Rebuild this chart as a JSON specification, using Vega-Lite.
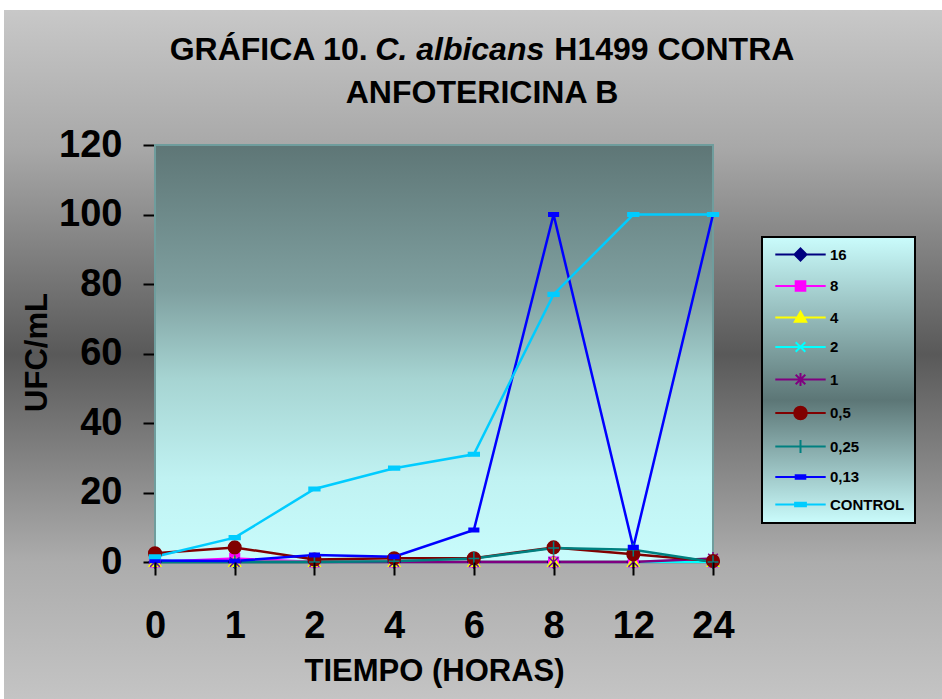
{
  "$schema": "https://vega.github.io/schema/vega-lite/v6.json",
  "width": 938,
  "height": 689,
  "autosize": {"type": "none"},
  "padding": {"left": 4, "top": 10, "right": 0, "bottom": 0},
  "background": "#ffffff",
  "title": {
    "text": ["GRÁFICA 10.\u00a0\u00a0\u00a0\u00a0\u00a0\u00a0\u00a0\u00a0\u00a0\u00a0\u00a0\u00a0\u00a0\u00a0\u00a0\u00a0\u00a0\u00a0\u00a0\u00a0\u00a0H1499 CONTRA", "ANFOTERICINA B"],
    "subtitle": "C. albicans\u00a0\u00a0\u00a0\u00a0\u00a0\u200b",
    "font": "Liberation Sans",
    "fontSize": 32,
    "fontWeight": "bold",
    "color": "#000000",
    "subtitleFont": "Liberation Sans",
    "subtitleFontSize": 32,
    "subtitleFontWeight": "bold",
    "subtitleFontStyle": "italic",
    "subtitleColor": "#000000",
    "subtitlePadding": -75,
    "anchor": "middle",
    "dx": 9,
    "lineHeight": 43,
    "baseline": "alphabetic",
    "offset": -125
  },
  "data": {
    "values": [
      {"t": 0, "serie": "16", "ufc": 0}, {"t": 1, "serie": "16", "ufc": 0}, {"t": 2, "serie": "16", "ufc": 0}, {"t": 4, "serie": "16", "ufc": 0},
      {"t": 6, "serie": "16", "ufc": 0}, {"t": 8, "serie": "16", "ufc": 0}, {"t": 12, "serie": "16", "ufc": 0}, {"t": 24, "serie": "16", "ufc": 0},
      {"t": 0, "serie": "8", "ufc": 0}, {"t": 1, "serie": "8", "ufc": 1}, {"t": 2, "serie": "8", "ufc": 0}, {"t": 4, "serie": "8", "ufc": 0},
      {"t": 6, "serie": "8", "ufc": 0}, {"t": 8, "serie": "8", "ufc": 0}, {"t": 12, "serie": "8", "ufc": 0}, {"t": 24, "serie": "8", "ufc": 0},
      {"t": 0, "serie": "4", "ufc": 0}, {"t": 1, "serie": "4", "ufc": 0}, {"t": 2, "serie": "4", "ufc": 0}, {"t": 4, "serie": "4", "ufc": 0},
      {"t": 6, "serie": "4", "ufc": 0}, {"t": 8, "serie": "4", "ufc": 0}, {"t": 12, "serie": "4", "ufc": 0}, {"t": 24, "serie": "4", "ufc": 0},
      {"t": 0, "serie": "2", "ufc": 0}, {"t": 1, "serie": "2", "ufc": 0}, {"t": 2, "serie": "2", "ufc": 0}, {"t": 4, "serie": "2", "ufc": 0},
      {"t": 6, "serie": "2", "ufc": 0}, {"t": 8, "serie": "2", "ufc": 0}, {"t": 12, "serie": "2", "ufc": 0}, {"t": 24, "serie": "2", "ufc": 0},
      {"t": 0, "serie": "1", "ufc": 0}, {"t": 1, "serie": "1", "ufc": 0}, {"t": 2, "serie": "1", "ufc": 0}, {"t": 4, "serie": "1", "ufc": 0},
      {"t": 6, "serie": "1", "ufc": 0}, {"t": 8, "serie": "1", "ufc": 0}, {"t": 12, "serie": "1", "ufc": 0}, {"t": 24, "serie": "1", "ufc": 1},
      {"t": 0, "serie": "0,5", "ufc": 2.5}, {"t": 1, "serie": "0,5", "ufc": 4.2}, {"t": 2, "serie": "0,5", "ufc": 0.7}, {"t": 4, "serie": "0,5", "ufc": 1.1},
      {"t": 6, "serie": "0,5", "ufc": 1.1}, {"t": 8, "serie": "0,5", "ufc": 4.2}, {"t": 12, "serie": "0,5", "ufc": 2.2}, {"t": 24, "serie": "0,5", "ufc": 0.3},
      {"t": 0, "serie": "0,25", "ufc": 0}, {"t": 1, "serie": "0,25", "ufc": 0}, {"t": 2, "serie": "0,25", "ufc": 0}, {"t": 4, "serie": "0,25", "ufc": 0.2},
      {"t": 6, "serie": "0,25", "ufc": 1}, {"t": 8, "serie": "0,25", "ufc": 4}, {"t": 12, "serie": "0,25", "ufc": 3.5}, {"t": 24, "serie": "0,25", "ufc": 0},
      {"t": 0, "serie": "0,13", "ufc": 0.4}, {"t": 1, "serie": "0,13", "ufc": 0.3}, {"t": 2, "serie": "0,13", "ufc": 2}, {"t": 4, "serie": "0,13", "ufc": 1.5},
      {"t": 6, "serie": "0,13", "ufc": 9.2}, {"t": 8, "serie": "0,13", "ufc": 100}, {"t": 12, "serie": "0,13", "ufc": 4.2}, {"t": 24, "serie": "0,13", "ufc": 100},
      {"t": 0, "serie": "CONTROL", "ufc": 1.5}, {"t": 1, "serie": "CONTROL", "ufc": 7}, {"t": 2, "serie": "CONTROL", "ufc": 21}, {"t": 4, "serie": "CONTROL", "ufc": 27},
      {"t": 6, "serie": "CONTROL", "ufc": 31}, {"t": 8, "serie": "CONTROL", "ufc": 77}, {"t": 12, "serie": "CONTROL", "ufc": 100}, {"t": 24, "serie": "CONTROL", "ufc": 100}
    ]
  },
  "layer": [
    {
      "data": {"values": [{}]},
      "mark": {
        "type": "rect",
        "stroke": "#6f9d9d",
        "strokeWidth": 2,
        "fill": {
          "gradient": "linear", "x1": 0, "y1": 0, "x2": 0, "y2": 1,
          "stops": [
            {"offset": 0, "color": "#5e7676"},
            {"offset": 0.35, "color": "#7fa0a0"},
            {"offset": 0.56, "color": "#a6d4d2"},
            {"offset": 0.8, "color": "#c0f2f2"},
            {"offset": 1, "color": "#c8fcfc"}
          ]
        }
      },
      "encoding": {
        "x": {"datum": 0, "type": "ordinal", "title": "TIEMPO (HORAS)",
              "scale": {"type": "point", "domain": [0, 1, 2, 4, 6, 8, 12, 24], "range": [151, 709], "padding": 0}},
        "x2": {"datum": 24},
        "y": {"datum": 0, "type": "quantitative", "title": "UFC/mL",
              "scale": {"domain": [0, 120], "range": [552, 135], "nice": false, "zero": false}},
        "y2": {"datum": 120}
      }
    },
    {
      "mark": {"type": "line", "strokeWidth": 2.5},
      "encoding": {
        "x": {
          "field": "t", "type": "ordinal", "title": "TIEMPO (HORAS)",
          "scale": {"type": "point", "domain": [0, 1, 2, 4, 6, 8, 12, 24], "range": [151, 709], "padding": 0},
          "axis": {
            "offset": -137, "domain": false, "tickSize": 13, "tickWidth": 2, "tickColor": "#000000",
            "labelAngle": 0, "labelAlign": "center", "labelFontSize": 38, "labelBaseline": "alphabetic", "labelPadding": 62,
            "labelFlush": false, "labelOverlap": false,
            "titleFontSize": 31, "titleBaseline": "alphabetic", "titleY": 118
          }
        },
        "y": {
          "field": "ufc", "type": "quantitative", "title": "UFC/mL",
          "scale": {"domain": [0, 120], "range": [552, 135], "nice": false, "zero": false},
          "axis": {
            "offset": -151, "values": [0, 20, 40, 60, 80, 100, 120], "domain": true, "domainColor": "#000000", "domainWidth": 2,
            "tickSize": 12, "tickWidth": 2, "tickColor": "#000000",
            "labelFontSize": 38, "labelPadding": 21, "labelBaseline": "middle",
            "titleFontSize": 31, "titleBaseline": "alphabetic", "titleX": -109, "titleY": 342
          }
        },
        "color": {
          "field": "serie", "type": "nominal",
          "scale": {
            "domain": ["16", "8", "4", "2", "1", "0,5", "0,25", "0,13", "CONTROL"],
            "range": ["#000080", "#ff00ff", "#ffff00", "#00ffff", "#800080", "#800000", "#008080", "#0000ff", "#00ccff"]
          },
          "legend": {
            "title": null, "orient": "none", "legendX": 758, "legendY": 227,
            "padding": 10, "rowPadding": 11.5,
            "labelFont": "Liberation Sans", "labelFontWeight": "bold", "labelFontSize": 15, "labelColor": "#000000",
            "labelOffset": 22, "symbolOffset": 21, "symbolSize": 144, "symbolStrokeWidth": 2,
            "strokeColor": "#000000", "fillColor": "#9cc0c0",
            "encode": {
              "symbols": {
                "update": {
                  "shape": {"signal": "'M-4.2,0H4.2' + scale('shape', datum.value)"},
                  "strokeWidth": {"value": 2},
                  "opacity": {"value": 1}
                }
              },
              "legend": {
                "update": {
                  "strokeWidth": {"value": 2},
                  "fill": {"value": {
                    "gradient": "linear", "x1": 0, "y1": 0, "x2": 0, "y2": 1,
                    "stops": [
                      {"offset": 0, "color": "#cafcfc"},
                      {"offset": 0.57, "color": "#5c7676"},
                      {"offset": 1, "color": "#cafcfc"}
                    ]
                  }}
                }
              }
            }
          }
        }
      }
    },
    {
      "mark": {"type": "point", "filled": true, "size": 144, "strokeWidth": 1.5, "opacity": 1},
      "encoding": {
        "x": {"field": "t", "type": "ordinal", "title": "TIEMPO (HORAS)"},
        "y": {"field": "ufc", "type": "quantitative", "title": "UFC/mL"},
        "color": {"field": "serie", "type": "nominal"},
        "stroke": {
          "field": "serie", "type": "nominal", "legend": null,
          "scale": {
            "domain": ["16", "8", "4", "2", "1", "0,5", "0,25", "0,13", "CONTROL"],
            "range": ["#000080", "#ff00ff", "#ffff00", "#00ffff", "#800080", "#800000", "#008080", "#0000ff", "#00ccff"]
          }
        },
        "shape": {
          "field": "serie", "type": "nominal", "legend": null,
          "scale": {
            "domain": ["CONTROL", "0,13", "0,25", "0,5", "1", "2", "4", "8", "16"],
            "range": [
              "M-0.9,-0.3H0.9V0.3H-0.9Z",
              "M-0.8,-0.3H0.8V0.3H-0.8Z",
              "M-0.9,0H0.9M0,-1.1V1.1",
              "M-1.05,0A1.05,1.05,0,1,1,1.05,0A1.05,1.05,0,1,1,-1.05,0Z",
              "M-0.8,-0.8L0.8,0.8M-0.8,0.8L0.8,-0.8M0,-1.1V1.1",
              "M-0.8,-0.8L0.8,0.8M-0.8,0.8L0.8,-0.8",
              "M0,-0.95L0.95,0.7H-0.95Z",
              "M-0.8,-0.8H0.8V0.8H-0.8Z",
              "M0,-1L1,0L0,1L-1,0Z"
            ]
          }
        }
      }
    }
  ],
  "config": {
    "view": {
      "stroke": null,
      "fill": {
        "gradient": "linear", "x1": 0, "y1": 0, "x2": 0, "y2": 1,
        "stops": [
          {"offset": 0, "color": "#c8c8c8"},
          {"offset": 0.2, "color": "#a8a8a8"},
          {"offset": 0.5, "color": "#595959"},
          {"offset": 0.8, "color": "#acacac"},
          {"offset": 1, "color": "#c4c4c4"}
        ]
      }
    },
    "axis": {
      "grid": false,
      "labelFont": "Liberation Sans", "labelFontWeight": "bold", "labelColor": "#000000",
      "titleFont": "Liberation Sans", "titleFontWeight": "bold", "titleColor": "#000000"
    }
  }
}
